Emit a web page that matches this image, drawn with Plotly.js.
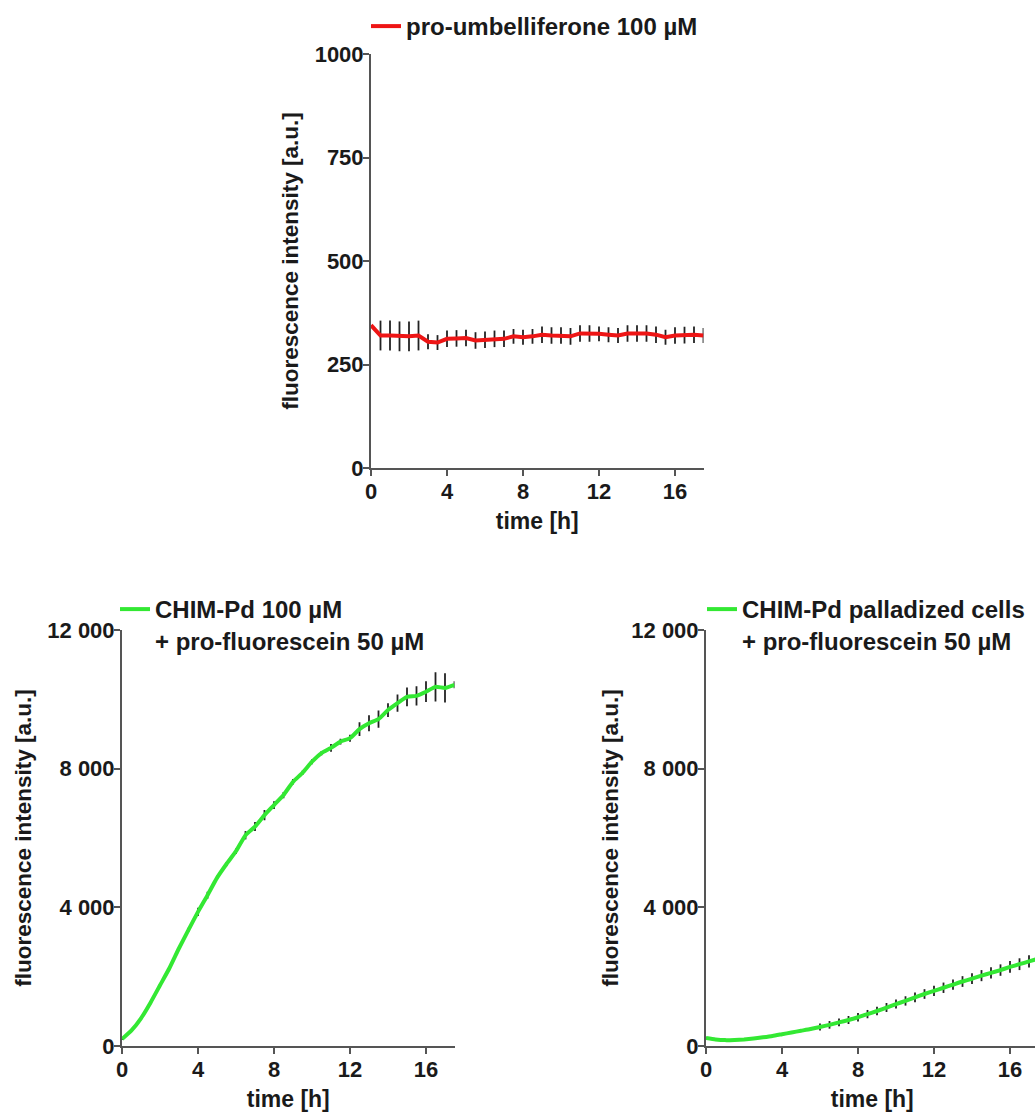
<!DOCTYPE html>
<html>
<head>
<meta charset="utf-8">
<script src="https://cdn.plot.ly/plotly-3.0.1.min.js"></script>
<style>
html,body{margin:0;padding:0;background:#fff;overflow:hidden;}
#chart{width:1050px;height:1115px;}
</style>
</head>
<body>
<div id="chart"></div>
<script>
// ---- data ----
const timeH = [0,0.5,1,1.5,2,2.5,3,3.5,4,4.5,5,5.5,6,6.5,7,7.5,8,8.5,9,9.5,10,10.5,11,11.5,12,12.5,13,13.5,14,14.5,15,15.5,16,16.5,17,17.5];

const umbValues = [345,320,320,318,318,320,305,303,312,313,314,308,310,312,312,318,316,318,322,320,320,318,325,325,324,322,320,325,325,325,322,316,320,321,322,320];
const umbErrors = [0,36,36,36,36,36,18,18,20,20,20,20,20,20,20,18,18,18,20,20,20,20,20,20,18,18,18,20,20,20,20,18,20,20,20,18];

const chimValues = [200,450,800,1250,1750,2250,2820,3350,3870,4350,4850,5250,5620,6080,6330,6660,6950,7240,7620,7880,8200,8450,8600,8780,8880,9140,9310,9430,9690,9890,10070,10100,10220,10360,10330,10420];
const chimErrors = [30,30,30,30,30,30,60,60,120,100,60,60,80,120,130,150,110,90,80,60,70,60,110,80,100,200,230,250,200,250,270,280,300,420,420,100];

const cellValues = [230,190,170,175,190,215,250,290,340,390,440,490,550,610,680,750,830,920,1010,1110,1210,1300,1400,1500,1590,1680,1770,1860,1940,2030,2110,2190,2280,2360,2440,2520];
const cellErrors = [20,20,20,20,20,20,25,25,30,30,35,40,100,110,110,115,120,120,125,130,130,135,140,140,145,150,150,155,155,160,160,165,170,170,175,175];

const umbTicks = [0,250,500,750,1000];
const umbTickLabels = ["0","250","500","750","1000"];
const fluoTicks = [0,4000,8000,12000];
const fluoTickLabels = ["0","4 000","8 000","12 000"];
const timeTicks = [0,4,8,12,16];
const timeTickLabels = ["0","4","8","12","16"];

const legendUmb = "pro-umbelliferone 100 µM";
const legendChim = "CHIM-Pd 100 µM<br>+ pro-fluorescein 50 µM";
const legendCell = "CHIM-Pd palladized cells<br>+ pro-fluorescein 50 µM";
const yTitle = "fluorescence intensity [a.u.]";
const xTitle = "time [h]";

// ---- layout ----
const W = 1050, H = 1115;
const px = v => v / W;
const py = v => 1 - v / H;
const FONT = "'Liberation Sans', Arial, sans-serif";
const INK = "#1a1a1a";
const AX = "#555555";

function errBar(arr){
  return {type:'data', array:arr, visible:true, color:'#222', thickness:1.8, width:0};
}

const traces = [
  {x: timeH, y: umbValues, error_y: errBar(umbErrors), type:'scatter', mode:'lines',
   line:{color:'#ee1515', width:4}, name: legendUmb, xaxis:'x', yaxis:'y', legend:'legend'},
  {x: timeH, y: chimValues, error_y: errBar(chimErrors), type:'scatter', mode:'lines',
   line:{color:'#33e833', width:4, shape:'spline', smoothing:0.5}, name: legendChim, xaxis:'x2', yaxis:'y2', legend:'legend2'},
  {x: timeH, y: cellValues, error_y: errBar(cellErrors), type:'scatter', mode:'lines',
   line:{color:'#33e833', width:4, shape:'spline', smoothing:0.5}, name: legendCell, xaxis:'x3', yaxis:'y3', legend:'legend3'}
];

function xAxis(d0, d1, anchor){
  return {
    domain:[px(d0), px(d1)], anchor: anchor, range:[0,17.5], autorange:false,
    tickmode:'array', tickvals: timeTicks, ticktext: timeTickLabels,
    showline:true, linecolor:AX, linewidth:2, ticks:'outside', ticklen:6, tickwidth:2, tickcolor:AX,
    ticklabelstandoff:-3,
    showgrid:false, zeroline:false, automargin:false,
    tickfont:{family:FONT, size:22, color:INK, weight:'bold'},
    title:{text:xTitle, font:{family:FONT, size:23, color:INK, weight:'bold'}, standoff:9}
  };
}
function yAxis(d0, d1, anchor, range, tv, tt, standoff){
  return {
    domain:[py(d1), py(d0)], anchor: anchor, range: range, autorange:false,
    tickmode:'array', tickvals: tv, ticktext: tt,
    showline:true, linecolor:AX, linewidth:2, ticks:'outside', ticklen:6, tickwidth:2, tickcolor:AX,
    ticklabelstandoff:-5,
    showgrid:false, zeroline:false, automargin:false,
    tickfont:{family:FONT, size:22, color:INK, weight:'bold'},
    title:{text:yTitle, font:{family:FONT, size:22.5, color:INK, weight:'bold'}, standoff: standoff}
  };
}
function legendAt(xp, yp){
  return {x: px(xp), y: py(yp), xanchor:'left', yanchor:'top', bgcolor:'rgba(0,0,0,0)',
    font:{family:FONT, size:24, color:INK, weight:'bold'}, valign:'top', itemwidth:30,
    borderwidth:0};
}

const layout = {
  width: W, height: H,
  margin:{l:0, r:0, t:0, b:0, pad:0},
  paper_bgcolor:'#fff', plot_bgcolor:'#fff',
  showlegend:true,
  xaxis: xAxis(371, 703.5, 'y'),
  yaxis: yAxis(54, 468, 'x', [0,1000], umbTicks, umbTickLabels, 10),
  xaxis2: xAxis(122, 454.5, 'y2'),
  yaxis2: yAxis(630, 1046, 'x2', [0,12000], fluoTicks, fluoTickLabels, 9),
  xaxis3: xAxis(706, 1038.5, 'y3'),
  yaxis3: yAxis(630, 1046, 'x3', [0,12000], fluoTicks, fluoTickLabels, 6),
  legend: legendAt(366, 4),
  legend2: legendAt(115, 587),
  legend3: legendAt(702, 587)
};

Plotly.newPlot('chart', traces, layout, {displayModeBar:false, staticPlot:true});
</script>
</body>
</html>
